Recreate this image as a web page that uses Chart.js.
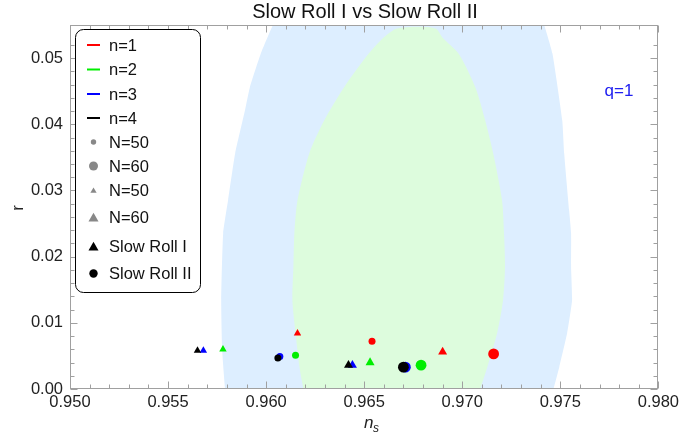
<!DOCTYPE html>
<html><head><meta charset="utf-8">
<script src="https://cdn.jsdelivr.net/npm/chart.js@4.4.1/dist/chart.umd.min.js"></script>
<style>html,body{margin:0;padding:0;background:#fff}#wrap{width:683px;height:444px;position:relative}</style>
</head><body><div id="wrap"><canvas id="c"></canvas></div>
<script>
// ---- data ----
const seriesLabels = ['n=1', 'n=2', 'n=3', 'n=4'];
const seriesColors = ['#ff0000', '#00ee00', '#0000ff', '#000000'];
// Slow Roll I (triangles)
const sr1N50ns = [0.9616, 0.9578, 0.9568, 0.9565];
const sr1N50r  = [0.0084, 0.0060, 0.0058, 0.0058];
const sr1N60ns = [0.9690, 0.9653, 0.9644, 0.9642];
const sr1N60r  = [0.0056, 0.0040, 0.0036, 0.0036];
// Slow Roll II (circles)
const sr2N50ns = [0.9654, 0.9615, 0.9607, 0.9606];
const sr2N50r  = [0.0072, 0.0051, 0.0049, 0.0047];
const sr2N60ns = [0.9716, 0.9679, 0.9671, 0.9670];
const sr2N60r  = [0.0053, 0.0036, 0.0033, 0.0033];
// Planck contours (outer 2-sigma, inner 1-sigma)
const outerNs = [0.95800, 0.95791, 0.95776, 0.95771, 0.95781, 0.95806, 0.95842, 0.95892, 0.95917, 0.95973, 0.96033, 0.96060,
                 0.97400, 0.97419, 0.97460, 0.97510, 0.97520, 0.97545, 0.97555, 0.97555, 0.97560, 0.97535, 0.97495, 0.97465, 0.97450];
const outerR  = [-0.001, 0.0000, 0.00588, 0.01342, 0.02353, 0.02851, 0.03560, 0.04208, 0.04555, 0.05068, 0.05490, 0.0560,
                 0.0560, 0.05490, 0.05068, 0.04057, 0.03560, 0.02700, 0.02353, 0.01840, 0.01342, 0.00845, 0.00332, 0.0000, -0.001];
const innerNs = [0.96195, 0.96190, 0.96170, 0.96150, 0.96134, 0.96139, 0.96144, 0.96160, 0.96220, 0.96296, 0.96397, 0.96523, 0.96598, 0.96664,
                 0.96774, 0.96866, 0.96900, 0.96981, 0.97067, 0.97117, 0.97158, 0.97203, 0.97213, 0.97218, 0.97208, 0.97178, 0.97128, 0.97092, 0.97085];
const innerR  = [-0.001, 0.0, 0.00332, 0.00845, 0.01342, 0.01840, 0.02353, 0.02851, 0.03560, 0.04057, 0.04555, 0.05068, 0.05309, 0.05445,
                 0.05475, 0.05445, 0.05309, 0.05068, 0.04555, 0.04057, 0.03560, 0.02851, 0.02353, 0.01840, 0.01342, 0.00845, 0.00332, 0.0, -0.001];
const xMin = 0.950, xMax = 0.980, yMin = 0, yMax = 0.055;
const legendLabels = ['n=1', 'n=2', 'n=3', 'n=4', 'N=50', 'N=60', 'N=50', 'N=60', 'Slow Roll I', 'Slow Roll II'];
const titleText = 'Slow Roll I vs Slow Roll II';
const noteText = 'q=1';

const FONT = "'Liberation Sans', Arial, sans-serif";
const zip = (a, b) => a.map((v, i) => ({x: v, y: b[i]}));

const datasets = [];
seriesLabels.forEach((lab, i) => {
  datasets.push({
    type: 'scatter', label: lab + ' SR I',
    data: [{x: sr1N50ns[i], y: sr1N50r[i]}, {x: sr1N60ns[i], y: sr1N60r[i]}],
    pointStyle: 'triangle', pointRadius: [4.3, 5.2],
    backgroundColor: seriesColors[i], borderColor: seriesColors[i], borderWidth: 0,
    order: 4 - i
  });
  datasets.push({
    type: 'scatter', label: lab + ' SR II',
    data: [{x: sr2N50ns[i], y: sr2N50r[i]}, {x: sr2N60ns[i], y: sr2N60r[i]}],
    pointStyle: 'circle', pointRadius: [3.5, 5.4],
    backgroundColor: seriesColors[i], borderColor: seriesColors[i], borderWidth: 0,
    order: 4 - i
  });
});
datasets.push({
  type: 'line', label: 'outer', data: zip(outerNs, outerR),
  fill: 'shape', backgroundColor: '#ddeeff', borderWidth: 0, borderColor: 'rgba(0,0,0,0)',
  pointRadius: 0, tension: 0.15, order: 20
});
datasets.push({
  type: 'line', label: 'inner', data: zip(innerNs, innerR),
  fill: 'shape', backgroundColor: '#ddfcdd', borderWidth: 0, borderColor: 'rgba(0,0,0,0)',
  pointRadius: 0, tension: 0.25, order: 19
});

function tri(ctx, x, y, r) {
  ctx.beginPath();
  ctx.moveTo(x, y - r);
  ctx.lineTo(x + r * Math.cos(Math.PI / 6), y + r / 2);
  ctx.lineTo(x - r * Math.cos(Math.PI / 6), y + r / 2);
  ctx.closePath(); ctx.fill();
}
function circ(ctx, x, y, r) { ctx.beginPath(); ctx.arc(x, y, r, 0, Math.PI * 2); ctx.fill(); }

const decor = {
  id: 'decor',
  afterDraw(chart) {
    const {ctx, chartArea: a, scales: {x, y}} = chart;
    ctx.save();
    // frame and inward ticks
    ctx.strokeStyle = '#a0a0a0'; ctx.lineWidth = 1;
    const L = Math.round(a.left) + 0.5, R = Math.round(a.right) - 0.5, T = Math.round(a.top) + 0.5, B = Math.round(a.bottom) - 0.5;
    ctx.strokeRect(L, T, R - L, B - T);
    ctx.beginPath();
    x.ticks.forEach(t => {
      const k = Math.round(t.value * 1000);
      if (Math.abs(t.value * 1000 - k) > 1e-6) return;
      const len = k % 5 === 0 ? 7 : 4;
      const px = Math.round(x.getPixelForValue(t.value)) + 0.5;
      ctx.moveTo(px, B); ctx.lineTo(px, B - len);
      ctx.moveTo(px, T); ctx.lineTo(px, T + len);
    });
    y.ticks.forEach(t => {
      const k = Math.round(t.value * 1000);
      if (Math.abs(t.value * 1000 - k) > 1e-6 || k % 2 !== 0) return;
      const len = k % 10 === 0 ? 7 : 4;
      const py = Math.round(y.getPixelForValue(t.value)) + 0.5;
      ctx.moveTo(L, py); ctx.lineTo(L + len, py);
      ctx.moveTo(R, py); ctx.lineTo(R - len, py);
    });
    ctx.stroke();

    // title
    ctx.fillStyle = '#111'; ctx.textAlign = 'center'; ctx.textBaseline = 'middle';
    ctx.font = '20px ' + FONT;
    ctx.fillText(titleText, 365, 12);
    // q note
    ctx.fillStyle = '#2020f0'; ctx.font = '17px ' + FONT;
    ctx.fillText(noteText, 619, 91);
    // axis titles
    ctx.fillStyle = '#222';
    ctx.font = 'italic 17px ' + FONT; ctx.textAlign = 'left'; ctx.textBaseline = 'alphabetic';
    ctx.fillText('n', 364, 428);
    ctx.font = 'italic 12px ' + FONT;
    ctx.fillText('s', 373, 432);
    ctx.save();
    ctx.translate(18, 208); ctx.rotate(-Math.PI / 2);
    ctx.font = '17px ' + FONT; ctx.textAlign = 'center'; ctx.textBaseline = 'middle';
    ctx.fillText('r', 0, 0);
    ctx.restore();

    // legend box
    ctx.fillStyle = '#fff'; ctx.strokeStyle = '#000'; ctx.lineWidth = 1;
    ctx.beginPath(); ctx.roundRect(75.5, 29.5, 125, 263, 8); ctx.fill(); ctx.stroke();
    const rows = [45, 69.5, 94, 118, 142, 166, 190, 217.5, 246.5, 273.5];
    const ix = 93.5;
    rows.forEach((ry, i) => {
      if (i < 4) {
        ctx.strokeStyle = seriesColors[i]; ctx.lineWidth = 2;
        ctx.beginPath(); ctx.moveTo(87, ry); ctx.lineTo(100, ry); ctx.stroke();
      } else if (i === 4) { ctx.fillStyle = '#888'; circ(ctx, ix, ry, 2.7); }
      else if (i === 5) { ctx.fillStyle = '#888'; circ(ctx, ix, ry, 4.5); }
      else if (i === 6) { ctx.fillStyle = '#888'; tri(ctx, ix, ry + 1, 3.6); }
      else if (i === 7) { ctx.fillStyle = '#888'; tri(ctx, ix, ry + 1, 5.8); }
      else if (i === 8) { ctx.fillStyle = '#000'; tri(ctx, ix, ry + 1, 5.8); }
      else { ctx.fillStyle = '#000'; circ(ctx, ix, ry, 4.2); }
      ctx.fillStyle = '#111'; ctx.font = '16.5px ' + FONT; ctx.textAlign = 'left'; ctx.textBaseline = 'middle';
      ctx.fillText(legendLabels[i], 109, ry + 1);
    });
    ctx.restore();
  }
};

new Chart(document.getElementById('c'), {
  type: 'scatter',
  data: {datasets},
  options: {
    responsive: true, maintainAspectRatio: false, animation: false, events: [],
    layout: {padding: {left: 0, right: 18, top: 25, bottom: 0}},
    plugins: {legend: {display: false}, tooltip: {enabled: false}, title: {display: false}},
    scales: {
      x: {
        type: 'linear', min: xMin, max: xMax,
        grid: {display: false, drawTicks: false}, border: {display: false},
        afterFit(s) { s.height = 55; },
        ticks: {
          stepSize: 0.001, autoSkip: false, maxRotation: 0, padding: 4,
          color: '#222', font: {family: FONT, size: 16.5},
          callback(v) { const k = Math.round(v * 1000); return k % 5 === 0 ? (k / 1000).toFixed(3) : ''; }
        }
      },
      y: {
        type: 'linear', min: yMin, max: yMax,
        grid: {display: false, drawTicks: false}, border: {display: false},
        afterFit(s) { s.width = 70; },
        ticks: {
          stepSize: 0.002, autoSkip: false, padding: 7,
          color: '#222', font: {family: FONT, size: 16.5},
          callback(v) { const k = Math.round(v * 1000); return (k % 10 === 0 && Math.abs(v * 1000 - k) < 1e-6) ? (k / 1000).toFixed(2) : ''; }
        }
      }
    }
  },
  plugins: [decor]
});
</script>
</body></html>
